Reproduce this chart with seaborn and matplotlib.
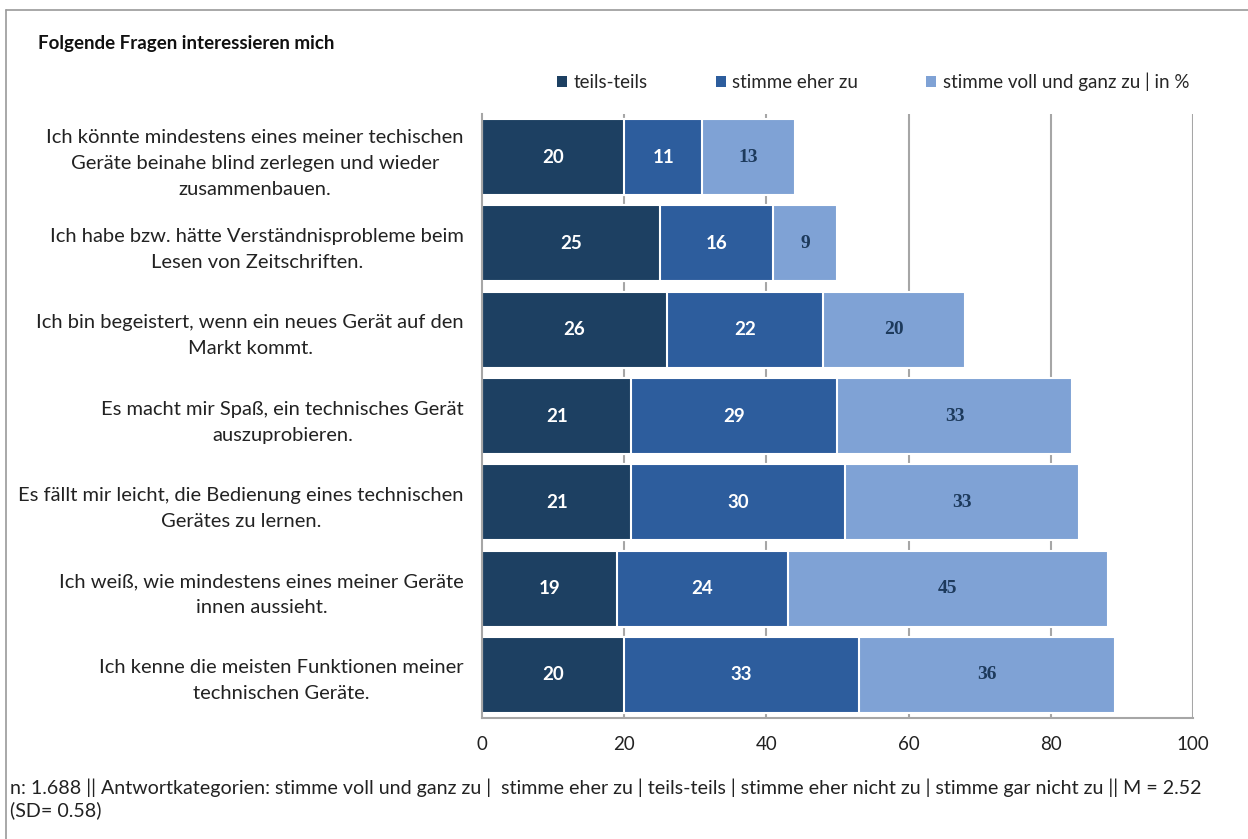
import matplotlib
matplotlib.use("Agg")
import matplotlib.pyplot as plt
from matplotlib.patches import Patch
from matplotlib.lines import Line2D
import seaborn as sns
import pandas as pd
import numpy as np

# Data (in %)
statements = [
    "Ich könnte mindestens eines meiner techischen\nGeräte beinahe blind zerlegen und wieder\nzusammenbauen.",
    "Ich habe bzw. hätte Verständnisprobleme beim\nLesen von Zeitschriften.",
    "Ich bin begeistert, wenn ein neues Gerät auf den\nMarkt kommt.",
    "Es macht mir Spaß, ein technisches Gerät\nauszuprobieren.",
    "Es fällt mir leicht, die Bedienung eines technischen\nGerätes zu lernen.",
    "Ich weiß, wie mindestens eines meiner Geräte\ninnen aussieht.",
    "Ich kenne die meisten Funktionen meiner\ntechnischen Geräte.",
]
teils_teils = [20, 25, 26, 21, 21, 19, 20]
stimme_eher_zu = [11, 16, 22, 29, 30, 24, 33]
stimme_voll_zu = [13, 9, 20, 33, 33, 45, 36]

series_names = ["teils-teils", "stimme eher zu", "stimme voll und ganz zu | in %"]
colors = ["#1d4062", "#2d5d9d", "#7fa2d5"]
x_ticks = [0, 20, 40, 60, 80, 100]

title = "Folgende Fragen interessieren mich"
footer = ("n: 1.688 || Antwortkategorien: stimme voll und ganz zu |  stimme eher zu | teils-teils | "
          "stimme eher nicht zu | stimme gar nicht zu || M = 2.52\n(SD= 0.58)")

sns.set_theme(style="white")
plt.rcParams['font.family'] = ['Lato', 'DejaVu Sans']

df = pd.DataFrame({
    "statement": statements,
    "teils": teils_teils,
    "eher": stimme_eher_zu,
    "voll": stimme_voll_zu,
})
df["c1"] = df["teils"]
df["c2"] = df["c1"] + df["eher"]
df["c3"] = df["c2"] + df["voll"]

fig = plt.figure(figsize=(12.48, 8.39), dpi=100)
ax = fig.add_axes([0.3862, 0.1442, 0.5697, 0.7199])

# gridlines behind the bars
for t in x_ticks[1:]:
    ax.axvline(t, color="#a6a6a6", lw=1.5, zorder=0)

# stacked bars drawn as cumulative layers, largest first
for col, color in zip(["c3", "c2", "c1"], colors[::-1]):
    sns.barplot(data=df, x=col, y="statement", color=color, orient="h",
                width=0.88, edgecolor="white", linewidth=1.5, saturation=1,
                ax=ax, zorder=2)

# value labels
for i, row in df.iterrows():
    ax.text(row["c1"] - row["teils"] / 2, i, str(row["teils"]), ha="center", va="center",
            color="white", fontsize=13.5, fontweight="bold", zorder=3)
    ax.text(row["c2"] - row["eher"] / 2, i, str(row["eher"]), ha="center", va="center",
            color="white", fontsize=13.5, fontweight="bold", zorder=3)
    ax.text(row["c3"] - row["voll"] / 2, i, str(row["voll"]), ha="center", va="center",
            color="#1d3a5c", fontsize=14, fontweight="bold", family="Liberation Serif", zorder=3)

ax.set_xlim(0, 100)
ax.set_ylim(6.5, -0.5)
ax.set_xticks(x_ticks)
ax.set_xticklabels([str(t) for t in x_ticks], fontsize=13.5, color="#222222")
ax.set_xlabel("")
ax.set_ylabel("")
ax.set_yticks(range(len(statements)))
ax.set_yticklabels(statements, fontsize=14.5, color="#222222", multialignment="center",
                   linespacing=1.65)
ax.tick_params(axis="y", length=0, pad=13)
ax.tick_params(axis="x", length=0, pad=13)

for side in ["top", "right"]:
    ax.spines[side].set_visible(False)
for side in ["left", "bottom"]:
    ax.spines[side].set_color("#a6a6a6")
    ax.spines[side].set_linewidth(1.5)

# title, legend, footer
fig.text(38 / 1248, 1 - 43 / 839, title, fontsize=13.5, fontweight="bold",
         ha="left", va="center", color="#111111")

handles = [Patch(facecolor=c, edgecolor="none") for c in colors]
fig.legend(handles, series_names, loc="center left", bbox_to_anchor=(557 / 1248, 1 - 82 / 839),
           ncol=3, frameon=False, fontsize=13.5, handlelength=0.55, handleheight=0.55,
           handletextpad=0.35, columnspacing=3.6, borderaxespad=0, borderpad=0)

fig.text(10 / 1248, 1 - 799 / 839, footer, fontsize=14.1, ha="left", va="center",
         color="#222222", linespacing=1.25)

# outer frame (top and left edge)
fig.add_artist(Line2D([6 / 1248, 1.0], [1 - 10 / 839, 1 - 10 / 839], color="#9a9a9a", lw=1.2,
                      transform=fig.transFigure))
fig.add_artist(Line2D([6 / 1248, 6 / 1248], [0, 1 - 10 / 839], color="#9a9a9a", lw=1.2,
                      transform=fig.transFigure))

fig.savefig("out.png", dpi=100, facecolor="white")
